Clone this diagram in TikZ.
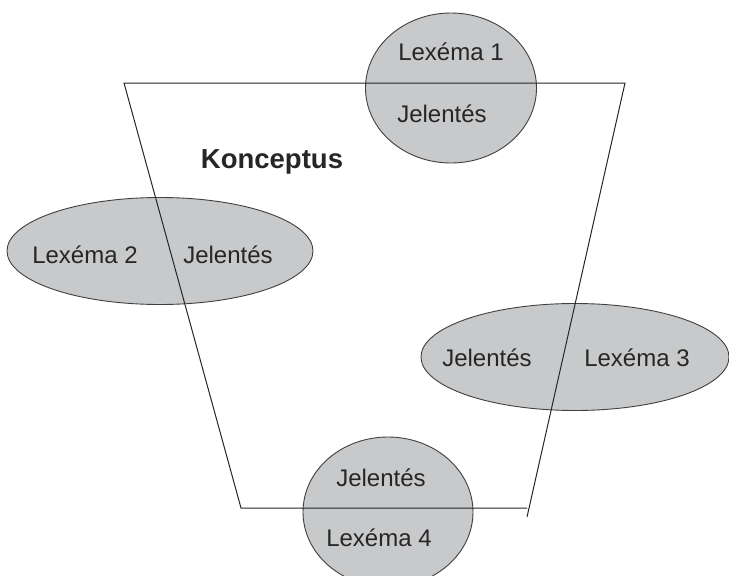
\documentclass[tikz,border=0pt]{standalone}
\usepackage{fontspec}
\setmainfont{Liberation Sans}
\usetikzlibrary{shapes.geometric}
\definecolor{mygray}{RGB}{200,201,203}
\tikzset{
  lexshape/.style={ellipse,draw=black!75,fill=mygray,line width=0.9pt,inner sep=0pt},
  lexlabel/.style={font=\fontsize{24}{27}\selectfont,text=black!85},
}

\begin{document}
\begin{tikzpicture}[x=1pt,y=-1pt]
  \useasboundingbox (0,0) rectangle (729,576);

  % lexemes
  \node[lexshape,minimum width=171,minimum height=150] (lex1) at (451,88) {};
  \node[lexshape,minimum width=306,minimum height=107] (lex2) at (160,251) {};
  \node[lexshape,minimum width=308,minimum height=107] (lex3) at (575,357) {};
  \node[lexshape,minimum width=170,minimum height=150] (lex4) at (388,512) {};

  % concept
  \coordinate (tl) at (124,83);
  \coordinate (tr) at (625,83);
  \coordinate (bl) at (241,508);
  \coordinate (br) at (527,508);
  \coordinate (rend) at (527,517);
  \draw[line width=1pt,black!85] (br) -- (bl) -- (tl) -- (tr) -- (rend);

  % labels
  \node[font=\bfseries\fontsize{27.5}{30}\selectfont,text=black!85] (konc) at (272,162) {Konceptus};
  \node[lexlabel] (lex1a) at (451,52) {Lexéma 1};
  \node[lexlabel] (lex1b) at (442,114) {Jelentés};
  \node[lexlabel] (lex2a) at (85,255) {Lexéma 2};
  \node[lexlabel] (lex2b) at (228,255) {Jelentés};
  \node[lexlabel] (lex3a) at (487,358) {Jelentés};
  \node[lexlabel] (lex3b) at (637,358) {Lexéma 3};
  \node[lexlabel] (lex4a) at (381,478) {Jelentés};
  \node[lexlabel] (lex4b) at (379,538) {Lexéma 4};

\end{tikzpicture}
\end{document}
